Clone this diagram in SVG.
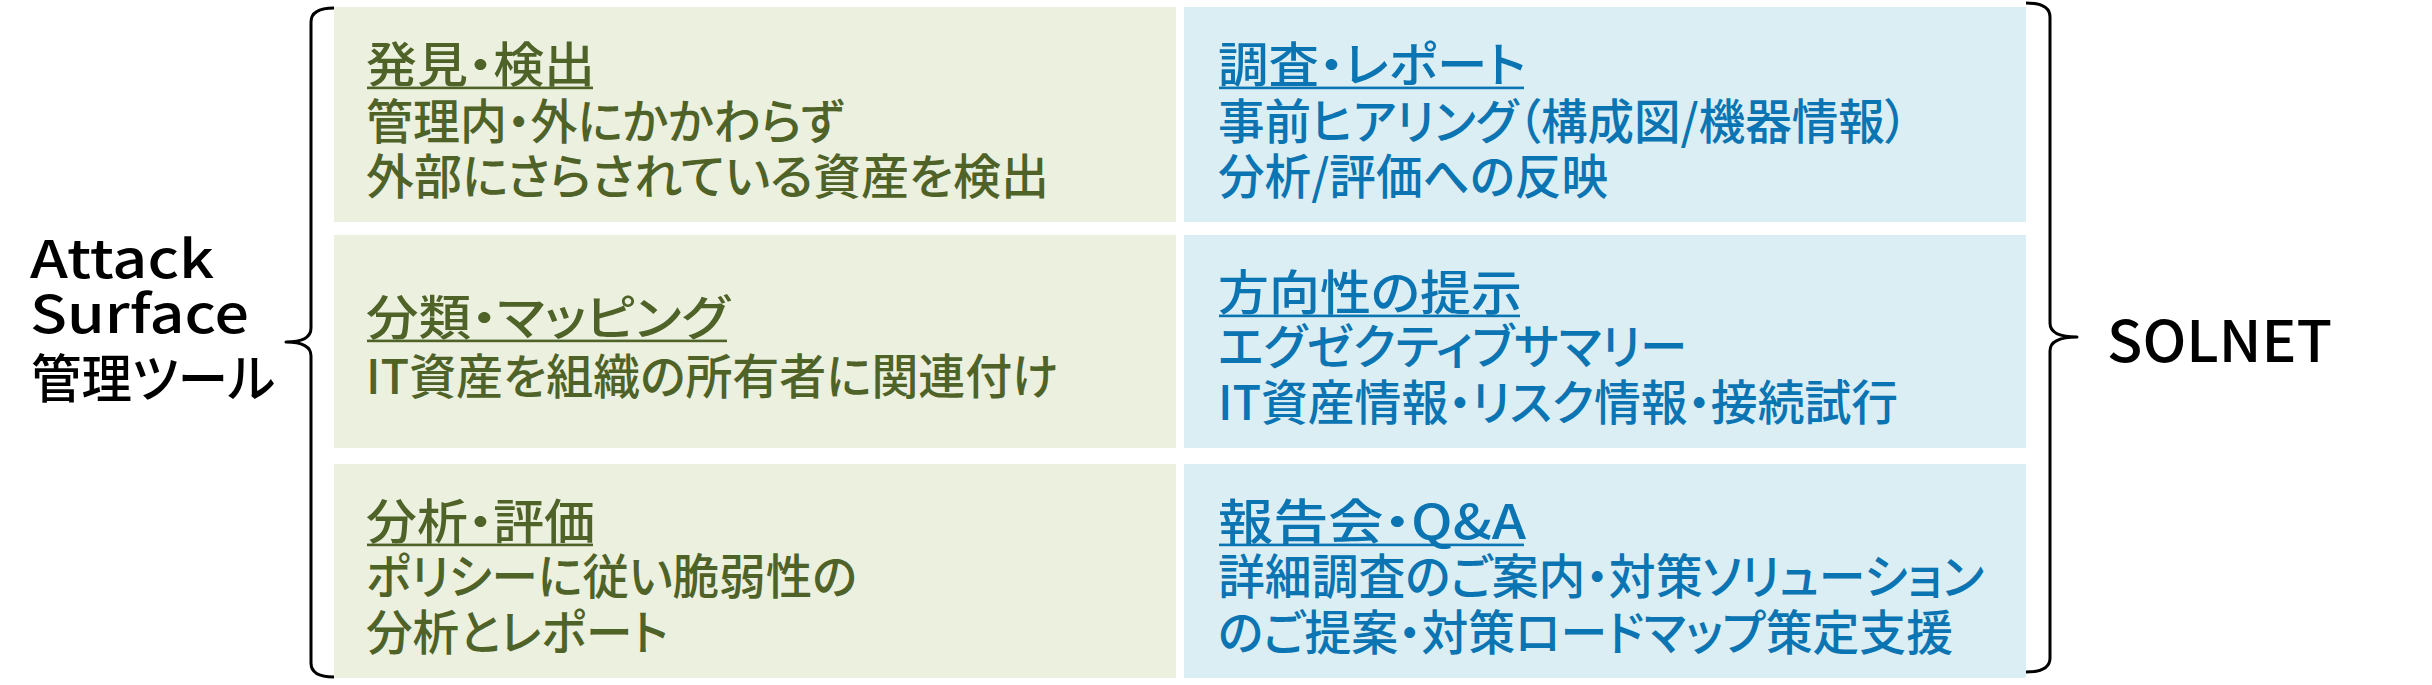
<svg xmlns="http://www.w3.org/2000/svg" width="2432" height="685" viewBox="0 0 2432 685">
<style>
  text { font-family: "Noto Sans CJK JP", "Noto Sans", sans-serif; font-feature-settings: "palt" 1; font-weight: 500; }
  .lbl { font-size: 52px; fill: #000; }
  .sol { font-size: 57px; fill: #000; }
  .g { fill: #EBF0DF; }
  .b { fill: #DAEEF3; }
  .gt { font-size: 48px; fill: #4F6228; }
  .bt { font-size: 48px; fill: #0B74B2; }
  .gu { fill: #4F6228; }
  .bu { fill: #0B74B2; }
  .brace { fill: none; stroke: #000; stroke-width: 3; stroke-linejoin: round; }
</style>
<rect width="2432" height="685" fill="#FFFFFF"/>

<g id="connectors">
  <path class="brace" d="M334,8 Q311,8 311,22 L311,328 Q311,342 286,342 Q311,342 311,356 L311,663 Q311,677 334,677"/>
  <path class="brace" d="M2026,3 Q2050,3 2050,17 L2050,323 Q2050,337 2077,337 Q2050,337 2050,351 L2050,658 Q2050,672 2026,672"/>
</g>

<g id="label-left">
  <text class="lbl" x="30" y="278" textLength="184" lengthAdjust="spacingAndGlyphs">Attack</text>
  <text class="lbl" x="30" y="333" textLength="219" lengthAdjust="spacingAndGlyphs">Surface</text>
  <text class="lbl" x="31" y="398" textLength="244" lengthAdjust="spacingAndGlyphs">管理ツール</text>
</g>

<g id="label-right">
  <text class="sol" x="2107" y="362" textLength="225" lengthAdjust="spacingAndGlyphs">SOLNET</text>
</g>

<g id="g1">
  <rect class="g" x="334" y="7" width="842" height="215"/>
  <text class="gt" x="366" y="82" textLength="229" lengthAdjust="spacingAndGlyphs">発見・検出</text>
  <rect class="gu" x="367" y="86.6" width="226" height="2.6"/>
  <text class="gt" x="366" y="139" textLength="478" lengthAdjust="spacingAndGlyphs">管理内・外にかかわらず</text>
  <text class="gt" x="366" y="194" textLength="683" lengthAdjust="spacingAndGlyphs">外部にさらされている資産を検出</text>
</g>

<g id="g2">
  <rect class="g" x="334" y="235" width="842" height="213"/>
  <text class="gt" x="366" y="335" textLength="363" lengthAdjust="spacingAndGlyphs">分類・マッピング</text>
  <rect class="gu" x="367" y="339.6" width="360" height="2.6"/>
  <text class="gt" x="366" y="394" textLength="692" lengthAdjust="spacingAndGlyphs">IT資産を組織の所有者に関連付け</text>
</g>

<g id="g3">
  <rect class="g" x="334" y="464" width="842" height="214"/>
  <text class="gt" x="366" y="539" textLength="229" lengthAdjust="spacingAndGlyphs">分析・評価</text>
  <rect class="gu" x="367" y="543.6" width="226" height="2.6"/>
  <text class="gt" x="366" y="594" textLength="491" lengthAdjust="spacingAndGlyphs">ポリシーに従い脆弱性の</text>
  <text class="gt" x="366" y="650" textLength="302" lengthAdjust="spacingAndGlyphs">分析とレポート</text>
</g>

<g id="b1">
  <rect class="b" x="1184" y="7" width="842" height="215"/>
  <text class="bt" x="1218" y="82" textLength="308" lengthAdjust="spacingAndGlyphs">調査・レポート</text>
  <rect class="bu" x="1219" y="86.6" width="305" height="2.6"/>
  <text class="bt" x="1218" y="139" textLength="690" lengthAdjust="spacingAndGlyphs">事前ヒアリング（構成図/機器情報）</text>
  <text class="bt" x="1218" y="194" textLength="390" lengthAdjust="spacingAndGlyphs">分析/評価への反映</text>
</g>

<g id="b2">
  <rect class="b" x="1184" y="235" width="842" height="213"/>
  <text class="bt" x="1218" y="310" textLength="304" lengthAdjust="spacingAndGlyphs">方向性の提示</text>
  <rect class="bu" x="1219" y="314.6" width="301" height="2.6"/>
  <text class="bt" x="1218" y="364" textLength="469" lengthAdjust="spacingAndGlyphs">エグゼクティブサマリー</text>
  <text class="bt" x="1218" y="420" textLength="680" lengthAdjust="spacingAndGlyphs">IT資産情報・リスク情報・接続試行</text>
</g>

<g id="b3">
  <rect class="b" x="1184" y="464" width="842" height="214"/>
  <text class="bt" x="1218" y="539" textLength="308" lengthAdjust="spacingAndGlyphs">報告会・Q&amp;A</text>
  <rect class="bu" x="1219" y="543.6" width="305" height="2.6"/>
  <text class="bt" x="1218" y="594" textLength="766" lengthAdjust="spacingAndGlyphs">詳細調査のご案内・対策ソリューション</text>
  <text class="bt" x="1218" y="650" textLength="735" lengthAdjust="spacingAndGlyphs">のご提案・対策ロードマップ策定支援</text>
</g>
</svg>
